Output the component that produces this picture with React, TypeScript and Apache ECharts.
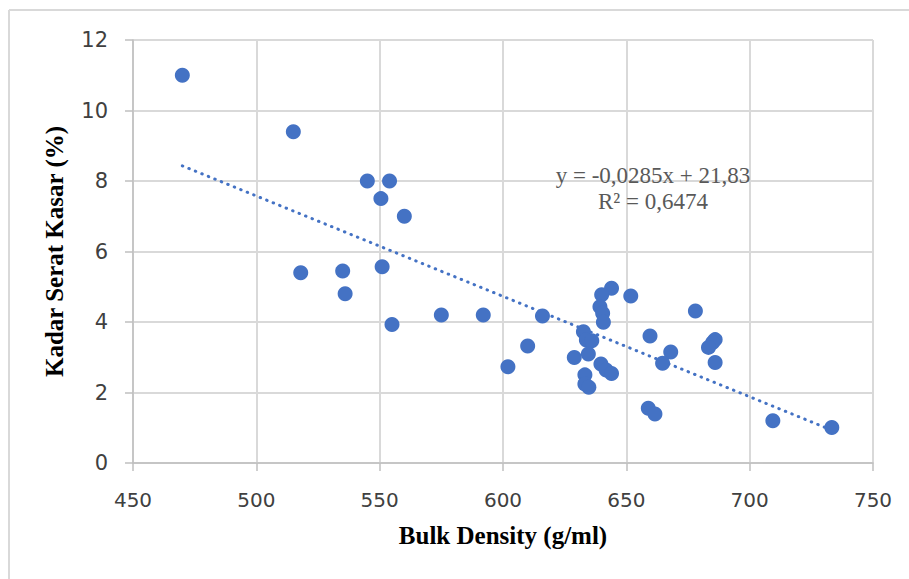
import React, { useEffect, useRef } from "react";
import * as echarts from "echarts";

const xTicks = [450, 500, 550, 600, 650, 700, 750];
const yTicks = [0, 2, 4, 6, 8, 10, 12];

const bulkDensity = [
  470, 515, 545, 554, 550.5, 560, 518, 535, 536, 551, 555, 575, 592, 616, 602, 610,
  644, 640, 639.3, 640.4, 640.7, 651.8, 632.6, 633.8, 636, 634.6, 628.9, 639.7, 641.8,
  644, 633.2, 633.2, 634.8, 659.6, 668, 664.7, 678, 686, 685, 683.3, 686, 658.9, 661.6,
  709.4, 733.3,
];
const seratKasar = [
  11.0, 9.4, 8.0, 8.0, 7.5, 7.0, 5.4, 5.45, 4.8, 5.57, 3.93, 4.2, 4.2, 4.17, 2.73, 3.32,
  4.96, 4.77, 4.43, 4.25, 3.99, 4.74, 3.72, 3.49, 3.47, 3.09, 2.99, 2.81, 2.64,
  2.54, 2.5, 2.24, 2.15, 3.6, 3.15, 2.83, 4.31, 3.5, 3.42, 3.28, 2.85, 1.55, 1.39,
  1.2, 1.01,
];
const trendX = [470, 733];
const trendY = [8.43, 0.94];
const equationText = "y = -0,0285x + 21,83";
const r2Text = "R² = 0,6474";

export default function App() {
  const ref = useRef<HTMLDivElement>(null);
  useEffect(() => {
    if (!ref.current) return;
    const chart = echarts.init(ref.current, null, { renderer: "svg" });
    const points = bulkDensity.map((x, i) => [x, seratKasar[i]]);
    const trend = trendX.map((x, i) => [x, trendY[i]]);
    const labelFont = "'DejaVu Sans', 'Liberation Sans', sans-serif";
    const serif = "'Liberation Serif', 'Times New Roman', serif";
    chart.setOption({
      animation: false,
      backgroundColor: "#ffffff",
      grid: { left: 133, right: 36, top: 40, bottom: 116 },
      xAxis: {
        type: "value",
        min: xTicks[0],
        max: xTicks[xTicks.length - 1],
        interval: 50,
        name: "Bulk Density (g/ml)",
        nameLocation: "middle",
        nameGap: 60,
        nameTextStyle: { fontFamily: serif, fontWeight: "bold", fontSize: 25, color: "#000" },
        axisLine: { show: true, lineStyle: { color: "#bfbfbf", width: 1.5 } },
        axisTick: { show: true, inside: false, length: 8, lineStyle: { color: "#bfbfbf", width: 1.5 } },
        axisLabel: { fontFamily: labelFont, fontSize: 20, color: "#404040", margin: 27 },
        splitLine: { show: true, lineStyle: { color: "#d9d9d9", width: 2 } },
      },
      yAxis: {
        type: "value",
        min: yTicks[0],
        max: yTicks[yTicks.length - 1],
        interval: 2,
        name: "Kadar Serat Kasar (%)",
        nameLocation: "middle",
        nameGap: 66,
        nameTextStyle: { fontFamily: serif, fontWeight: "bold", fontSize: 25, color: "#000" },
        axisLine: { show: true, lineStyle: { color: "#bfbfbf", width: 1.5 } },
        axisTick: { show: true, inside: false, length: 8, lineStyle: { color: "#bfbfbf", width: 1.5 } },
        axisLabel: { fontFamily: labelFont, fontSize: 21, color: "#404040", margin: 25 },
        splitLine: { show: true, lineStyle: { color: "#d9d9d9", width: 2 } },
      },
      series: [
        {
          type: "line",
          data: trend,
          symbol: "none",
          lineStyle: { color: "#4472c4", width: 3, type: [0.5, 6.5], cap: "round" },
          silent: true,
          z: 3,
        },
        {
          type: "scatter",
          data: points,
          symbol: "circle",
          symbolSize: 15,
          itemStyle: { color: "#4472c4", opacity: 1 },
          z: 4,
        },
      ],
      graphic: [
        {
          type: "line",
          shape: { x1: 9, y1: 10, x2: 909, y2: 10 },
          style: { stroke: "#d9d9d9", lineWidth: 2 },
          silent: true,
        },
        {
          type: "line",
          shape: { x1: 9, y1: 10, x2: 9, y2: 579 },
          style: { stroke: "#d9d9d9", lineWidth: 2 },
          silent: true,
        },
        {
          type: "text",
          x: 653,
          y: 175,
          style: {
            text: equationText,
            fontFamily: serif,
            fontSize: 23,
            fill: "#595959",
            align: "center",
            verticalAlign: "middle",
          },
          z: 10,
        },
        {
          type: "text",
          x: 653,
          y: 201,
          style: {
            text: r2Text,
            fontFamily: serif,
            fontSize: 23,
            fill: "#595959",
            align: "center",
            verticalAlign: "middle",
          },
          z: 10,
        },
      ],
    });
    return () => chart.dispose();
  }, []);
  return (
    <div
      ref={ref}
      style={{ position: "fixed", left: 0, top: 0, width: 909, height: 579, background: "#fff" }}
    />
  );
}
